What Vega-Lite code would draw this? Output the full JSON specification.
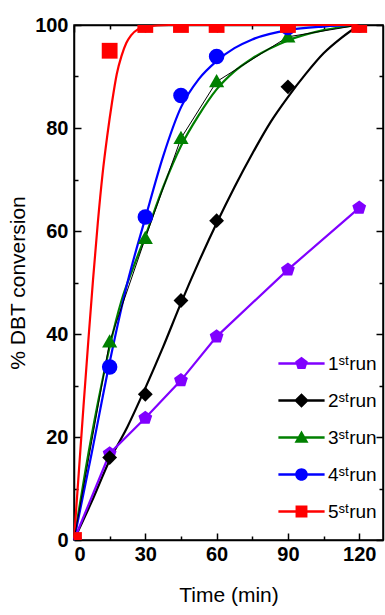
{
  "$schema": "https://vega.github.io/schema/vega-lite/v6.json",
  "width": 309,
  "height": 515,
  "autosize": {"type": "none"},
  "padding": {"left": 74, "top": 25, "right": 2, "bottom": 75},
  "background": "white",
  "config": {
    "view": {"stroke": "black", "strokeWidth": 1.5},
    "axis": {
      "grid": false,
      "domainColor": "black",
      "domainWidth": 1.5,
      "tickColor": "black",
      "tickWidth": 1.5,
      "labelFont": "Liberation Sans",
      "labelFontWeight": "bold",
      "labelFontSize": 20,
      "labelColor": "black",
      "titleFont": "Liberation Sans",
      "titleFontWeight": "normal",
      "titleFontSize": 21,
      "titleColor": "black"
    }
  },
  "datasets": {
    "points": [
      {"run": "1ˢᵗrun", "t": 0, "v": 0}, {"run": "1ˢᵗrun", "t": 15, "v": 16.8}, {"run": "1ˢᵗrun", "t": 30, "v": 23.7}, {"run": "1ˢᵗrun", "t": 45, "v": 31}, {"run": "1ˢᵗrun", "t": 60, "v": 39.5}, {"run": "1ˢᵗrun", "t": 90, "v": 52.5}, {"run": "1ˢᵗrun", "t": 120, "v": 64.5},
      {"run": "2ˢᵗrun", "t": 0, "v": 0}, {"run": "2ˢᵗrun", "t": 15, "v": 16}, {"run": "2ˢᵗrun", "t": 30, "v": 28.3}, {"run": "2ˢᵗrun", "t": 45, "v": 46.5}, {"run": "2ˢᵗrun", "t": 60, "v": 62}, {"run": "2ˢᵗrun", "t": 90, "v": 88}, {"run": "2ˢᵗrun", "t": 120, "v": 100},
      {"run": "3ˢᵗrun", "t": 0, "v": 0}, {"run": "3ˢᵗrun", "t": 15, "v": 38.5}, {"run": "3ˢᵗrun", "t": 30, "v": 58.6}, {"run": "3ˢᵗrun", "t": 45, "v": 78}, {"run": "3ˢᵗrun", "t": 60, "v": 89}, {"run": "3ˢᵗrun", "t": 90, "v": 97.7}, {"run": "3ˢᵗrun", "t": 120, "v": 100},
      {"run": "4ˢᵗrun", "t": 0, "v": 0}, {"run": "4ˢᵗrun", "t": 15, "v": 33.6}, {"run": "4ˢᵗrun", "t": 30, "v": 62.7}, {"run": "4ˢᵗrun", "t": 45, "v": 86.3}, {"run": "4ˢᵗrun", "t": 60, "v": 93.9}, {"run": "4ˢᵗrun", "t": 90, "v": 99.5}, {"run": "4ˢᵗrun", "t": 120, "v": 100},
      {"run": "5ˢᵗrun", "t": 0, "v": 0}, {"run": "5ˢᵗrun", "t": 15, "v": 95}, {"run": "5ˢᵗrun", "t": 30, "v": 100}, {"run": "5ˢᵗrun", "t": 45, "v": 100}, {"run": "5ˢᵗrun", "t": 60, "v": 100}, {"run": "5ˢᵗrun", "t": 90, "v": 100}, {"run": "5ˢᵗrun", "t": 120, "v": 100}
    ],
    "curves": [
      {"run": "2ˢᵗrun", "t": 0, "v": 0}, {"run": "2ˢᵗrun", "t": 7.5, "v": 7.5}, {"run": "2ˢᵗrun", "t": 15, "v": 15.5}, {"run": "2ˢᵗrun", "t": 22.5, "v": 22}, {"run": "2ˢᵗrun", "t": 30, "v": 29.5}, {"run": "2ˢᵗrun", "t": 37.5, "v": 37.5}, {"run": "2ˢᵗrun", "t": 45, "v": 46}, {"run": "2ˢᵗrun", "t": 52.5, "v": 54}, {"run": "2ˢᵗrun", "t": 60, "v": 61.5}, {"run": "2ˢᵗrun", "t": 67.5, "v": 68.5}, {"run": "2ˢᵗrun", "t": 75, "v": 75}, {"run": "2ˢᵗrun", "t": 82.5, "v": 81}, {"run": "2ˢᵗrun", "t": 90, "v": 86}, {"run": "2ˢᵗrun", "t": 97.5, "v": 90.5}, {"run": "2ˢᵗrun", "t": 105, "v": 94.5}, {"run": "2ˢᵗrun", "t": 112.5, "v": 97.5}, {"run": "2ˢᵗrun", "t": 120, "v": 100},
      {"run": "3ˢᵗrun", "t": 0, "v": 0}, {"run": "3ˢᵗrun", "t": 5, "v": 14}, {"run": "3ˢᵗrun", "t": 10, "v": 26.5}, {"run": "3ˢᵗrun", "t": 15, "v": 37.5}, {"run": "3ˢᵗrun", "t": 20, "v": 46.5}, {"run": "3ˢᵗrun", "t": 25, "v": 53}, {"run": "3ˢᵗrun", "t": 30, "v": 59}, {"run": "3ˢᵗrun", "t": 37.5, "v": 68.5}, {"run": "3ˢᵗrun", "t": 45, "v": 76.5}, {"run": "3ˢᵗrun", "t": 52.5, "v": 82.5}, {"run": "3ˢᵗrun", "t": 60, "v": 87.5}, {"run": "3ˢᵗrun", "t": 67.5, "v": 91}, {"run": "3ˢᵗrun", "t": 75, "v": 93.5}, {"run": "3ˢᵗrun", "t": 90, "v": 97}, {"run": "3ˢᵗrun", "t": 105, "v": 99}, {"run": "3ˢᵗrun", "t": 120, "v": 100},
      {"run": "4ˢᵗrun", "t": 0, "v": 0}, {"run": "4ˢᵗrun", "t": 7.5, "v": 17}, {"run": "4ˢᵗrun", "t": 15, "v": 34.5}, {"run": "4ˢᵗrun", "t": 22.5, "v": 50}, {"run": "4ˢᵗrun", "t": 30, "v": 62.5}, {"run": "4ˢᵗrun", "t": 37.5, "v": 74.5}, {"run": "4ˢᵗrun", "t": 45, "v": 84}, {"run": "4ˢᵗrun", "t": 52.5, "v": 89.5}, {"run": "4ˢᵗrun", "t": 60, "v": 93}, {"run": "4ˢᵗrun", "t": 67.5, "v": 95.5}, {"run": "4ˢᵗrun", "t": 75, "v": 97.2}, {"run": "4ˢᵗrun", "t": 90, "v": 99}, {"run": "4ˢᵗrun", "t": 105, "v": 99.7}, {"run": "4ˢᵗrun", "t": 120, "v": 100},
      {"run": "5ˢᵗrun", "t": 0, "v": 0}, {"run": "5ˢᵗrun", "t": 2, "v": 13}, {"run": "5ˢᵗrun", "t": 4, "v": 26}, {"run": "5ˢᵗrun", "t": 6, "v": 38.5}, {"run": "5ˢᵗrun", "t": 8, "v": 50.5}, {"run": "5ˢᵗrun", "t": 10, "v": 61.5}, {"run": "5ˢᵗrun", "t": 12, "v": 71}, {"run": "5ˢᵗrun", "t": 14, "v": 78.5}, {"run": "5ˢᵗrun", "t": 16, "v": 85}, {"run": "5ˢᵗrun", "t": 18, "v": 90.5}, {"run": "5ˢᵗrun", "t": 20, "v": 94}, {"run": "5ˢᵗrun", "t": 22, "v": 96.5}, {"run": "5ˢᵗrun", "t": 24, "v": 98}, {"run": "5ˢᵗrun", "t": 27, "v": 99.2}, {"run": "5ˢᵗrun", "t": 30, "v": 99.7}, {"run": "5ˢᵗrun", "t": 40, "v": 100}, {"run": "5ˢᵗrun", "t": 60, "v": 100}, {"run": "5ˢᵗrun", "t": 90, "v": 100}, {"run": "5ˢᵗrun", "t": 120, "v": 100}
    ]
  },
  "layer": [
    {
      "data": {"name": "curves"},
      "mark": {"type": "line", "strokeWidth": 2.2, "interpolate": "monotone"},
      "encoding": {
        "x": {"field": "t", "type": "quantitative", "scale": {"domain": [0, 130], "nice": false},
              "axis": {"orient": "bottom", "values": [0, 30, 60, 90, 120], "title": "Time (min)", "tickSize": -7, "labelPadding": 11, "titlePadding": 20,
                       "labelFont": "Liberation Sans, Arial, sans-serif", "labelFontWeight": "bold", "labelFontSize": 20, "titleFont": "Liberation Sans, Arial, sans-serif", "titleFontSize": 21, "titleFontWeight": 400}},
        "y": {"field": "v", "type": "quantitative", "scale": {"domain": [0, 100], "nice": false},
              "axis": {"orient": "left", "values": [0, 20, 40, 60, 80, 100], "title": "% DBT conversion", "tickSize": -7, "labelPadding": 13, "titlePadding": 6,
                       "labelFont": "Liberation Sans, Arial, sans-serif", "labelFontWeight": "bold", "labelFontSize": 20, "titleFont": "Liberation Sans, Arial, sans-serif", "titleFontSize": 21, "titleFontWeight": 400}},
        "color": {"field": "run", "type": "nominal",
                  "scale": {"domain": ["1ˢᵗrun", "2ˢᵗrun", "3ˢᵗrun", "4ˢᵗrun", "5ˢᵗrun"], "range": ["#8000ff", "#000000", "#008000", "#0000ff", "#ff0000"]},
                  "legend": null}
      }
    },
    {
      "data": {"name": "points"},
      "transform": [{"filter": {"field": "run", "equal": "1ˢᵗrun"}}],
      "mark": {"type": "line", "strokeWidth": 2.2, "color": "#8000ff"},
      "encoding": {
        "x": {"field": "t", "type": "quantitative", "axis": {"orient": "bottom", "values": [15, 45, 75, 105], "labels": false, "domain": false, "tickSize": -4, "title": null}},
        "y": {"field": "v", "type": "quantitative", "axis": {"orient": "left", "values": [10, 30, 50, 70, 90], "labels": false, "domain": false, "tickSize": -4, "title": null}}
      }
    },
    {
      "data": {"name": "points"},
      "transform": [{"filter": {"field": "run", "equal": "3ˢᵗrun"}}],
      "mark": {"type": "line", "strokeWidth": 1, "color": "#000000"},
      "encoding": {
        "x": {"field": "t", "type": "quantitative", "axis": {"orient": "top", "values": [0, 30, 60, 90, 120], "labels": false, "tickSize": -7, "title": null}},
        "y": {"field": "v", "type": "quantitative", "axis": {"orient": "right", "values": [0, 20, 40, 60, 80, 100], "labels": false, "tickSize": -7, "title": null}}
      }
    },
    {
      "data": {"name": "points"},
      "mark": {"type": "point", "filled": true, "opacity": 1, "strokeWidth": 0, "clip": true},
      "encoding": {
        "x": {"field": "t", "type": "quantitative", "axis": {"orient": "top", "values": [15, 45, 75, 105], "labels": false, "domain": false, "tickSize": -4, "title": null}},
        "y": {"field": "v", "type": "quantitative", "axis": {"orient": "right", "values": [10, 30, 50, 70, 90], "labels": false, "domain": false, "tickSize": -4, "title": null}},
        "color": {"field": "run", "type": "nominal",
                  "scale": {"domain": ["1ˢᵗrun", "2ˢᵗrun", "3ˢᵗrun", "4ˢᵗrun", "5ˢᵗrun"], "range": ["#8000ff", "#000000", "#008000", "#0000ff", "#ff0000"]},
                  "legend": null},
        "shape": {"field": "run", "type": "nominal",
                  "scale": {"domain": ["1ˢᵗrun", "2ˢᵗrun", "3ˢᵗrun", "4ˢᵗrun", "5ˢᵗrun"], "range": ["M0,-1L0.951,-0.309L0.588,0.809L-0.588,0.809L-0.951,-0.309Z", "diamond", "M0,-1L1,0.75L-1,0.75Z", "circle", "square"]},
                  "legend": null},
        "size": {"field": "run", "type": "nominal",
                 "scale": {"domain": ["1ˢᵗrun", "2ˢᵗrun", "3ˢᵗrun", "4ˢᵗrun", "5ˢᵗrun"], "range": [210, 250, 210, 175, 165]},
                 "legend": null}
      }
    },
    {
      "data": {"name": "points"},
      "transform": [{"filter": "false"}],
      "mark": {"type": "point", "filled": true, "opacity": 1},
      "encoding": {
        "x": {"field": "t", "type": "quantitative", "axis": null},
        "y": {"field": "v", "type": "quantitative", "axis": null},
        "color": {"field": "run", "type": "nominal",
                  "scale": {"domain": ["1ˢᵗrun", "2ˢᵗrun", "3ˢᵗrun", "4ˢᵗrun", "5ˢᵗrun"], "range": ["#8000ff", "#000000", "#008000", "#0000ff", "#ff0000"]},
                  "legend": {"orient": "none", "legendX": 218, "legendY": 329, "title": null, "padding": 0, "symbolSize": 196, "symbolStrokeWidth": 0, "symbolOpacity": 1, "labelOffset": 17, "labelFont": "Liberation Sans, Arial, sans-serif", "labelFontSize": 19, "labelColor": "black", "rowPadding": 17}},
        "shape": {"field": "run", "type": "nominal",
                  "scale": {"domain": ["1ˢᵗrun", "2ˢᵗrun", "3ˢᵗrun", "4ˢᵗrun", "5ˢᵗrun"], "range": [
                    "M-3.3,-0.17H3.3V0.17H-3.3ZM0,-0.95L0.9,-0.29L0.56,0.77L-0.56,0.77L-0.9,-0.29Z",
                    "M-3.3,-0.17H3.3V0.17H-3.3ZM0,-1.05L1.05,0L0,1.05L-1.05,0Z",
                    "M-3.3,-0.17H3.3V0.17H-3.3ZM0,-1L1,0.75L-1,0.75Z",
                    "M-3.3,-0.17H3.3V0.17H-3.3ZM0.9,0A0.9,0.9 0 1 1 -0.9,0A0.9,0.9 0 1 1 0.9,0Z",
                    "M-3.3,-0.17H3.3V0.17H-3.3ZM-0.85,-0.85H0.85V0.85H-0.85Z"]},
                  "legend": {"orient": "none", "legendX": 218, "legendY": 329, "title": null, "padding": 0, "symbolSize": 196, "symbolStrokeWidth": 0, "symbolOpacity": 1, "labelOffset": 17, "labelFont": "Liberation Sans, Arial, sans-serif", "labelFontSize": 19, "labelColor": "black", "rowPadding": 17}}
      }
    }
  ],
  "resolve": {
    "scale": {"color": "independent", "shape": "independent"},
    "axis": {"x": "independent", "y": "independent"}
  }
}
